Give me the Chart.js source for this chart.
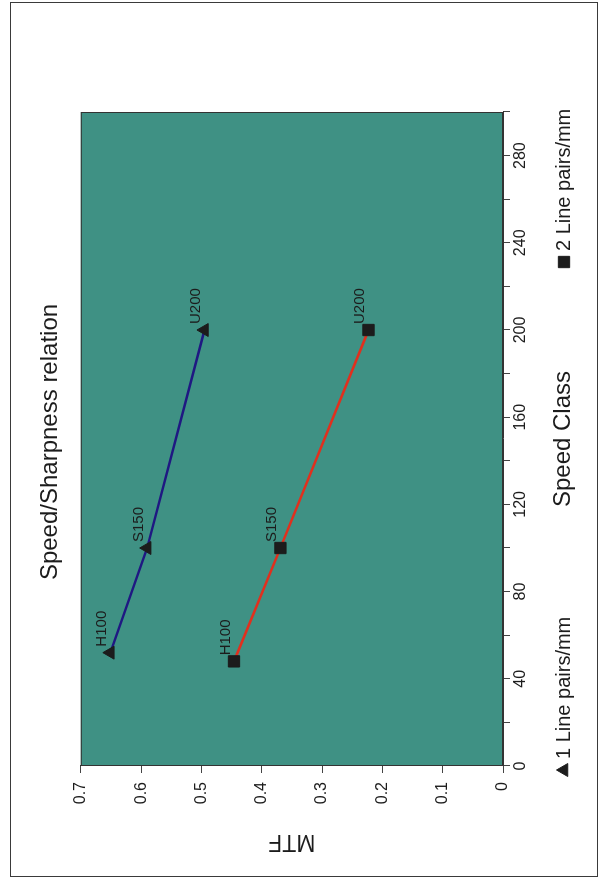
<!DOCTYPE html>
<html>
<head>
<meta charset="utf-8">
<title>Speed/Sharpness relation</title>
<script src="https://cdn.jsdelivr.net/npm/chart.js@4/dist/chart.umd.min.js"></script>
<style>
  body { margin: 0; width: 605px; height: 884px; overflow: hidden; background: #fff; position: relative; }
  #frame { position: absolute; left: 10px; top: 2px; width: 588px; height: 875px; border: 1px solid #3a3a3a; box-sizing: border-box; }
  /* the whole chart is drawn landscape and turned a quarter turn to the left */
  #wrap { position: absolute; left: 0; top: 0; width: 884px; height: 605px; transform-origin: 0 0; transform: translate(0, 884px) rotate(-90deg); }
</style>
</head>
<body>
<div id="frame"></div>
<div id="wrap"><canvas id="chart" width="884" height="605"></canvas></div>
<script>
// data
const pointNames = ["H100", "S150", "U200"];
const speed1 = [52, 100, 200];
const mtf1 = [0.651, 0.59, 0.495];
const speed2 = [48, 100, 200];
const mtf2 = [0.446, 0.369, 0.223];
const seriesNames = ["1 Line pairs/mm", "2 Line pairs/mm"];
const speedLabels = [0, 40, 80, 120, 160, 200, 240, 280];

const FONT = "'Liberation Sans', Arial, sans-serif";
const INK = "#1c1c1c";

Chart.defaults.font.family = FONT;
Chart.defaults.color = INK;

// background and border of the plot area
const plotFrame = {
    id: "plotFrame",
    beforeDraw(chart) {
        const { ctx, chartArea: a } = chart;
        ctx.save();
        ctx.fillStyle = "#3f9184";
        ctx.fillRect(a.left, a.top, a.right - a.left, a.bottom - a.top);
        ctx.restore();
    },
    afterDraw(chart) {
        const { ctx, chartArea: a } = chart;
        ctx.save();
        ctx.strokeStyle = "#333";
        ctx.lineWidth = 1;
        ctx.strokeRect(a.left + 0.5, a.top + 0.5, a.right - a.left - 1, a.bottom - a.top - 1);
        ctx.restore();
    },
};

// H100 / S150 / U200 next to each point
const pointLabels = {
    id: "pointLabels",
    afterDatasetsDraw(chart) {
        const ctx = chart.ctx;
        ctx.save();
        ctx.font = "15px " + FONT;
        ctx.fillStyle = INK;
        ctx.textAlign = "left";
        ctx.textBaseline = "alphabetic";
        chart.data.datasets.forEach((ds, i) => {
            chart.getDatasetMeta(i).data.forEach((pt, j) => {
                ctx.fillText(pointNames[j], pt.x + 6, pt.y - 4);
            });
        });
        ctx.restore();
    },
};

// legend items sit on the same line as the x axis title
const legendRow = {
    id: "legendRow",
    afterDraw(chart) {
        const { ctx, chartArea: a } = chart;
        const y = 564;
        const xs = [a.left - 4, a.right - 150];
        ctx.save();
        ctx.font = "20px " + FONT;
        ctx.textBaseline = "middle";
        ctx.textAlign = "left";
        chart.data.datasets.forEach((ds, i) => {
            ctx.fillStyle = INK;
            ctx.strokeStyle = INK;
            Chart.helpers.drawPoint(ctx, {
                pointStyle: ds.pointStyle,
                radius: ds.pointRadius,
                rotation: 0,
                borderWidth: 1,
            }, xs[i], y);
            ctx.fillStyle = INK;
            ctx.fillText(ds.label, xs[i] + 11, y);
        });
        ctx.restore();
    },
};

new Chart(document.getElementById("chart"), {
    type: "scatter",
    data: {
        datasets: [
            {
                label: seriesNames[0],
                data: speed1.map((s, i) => ({ x: s, y: mtf1[i] })),
                showLine: true,
                borderColor: "#1f1882",
                borderWidth: 2.5,
                pointStyle: "triangle",
                pointRadius: 7.5,
                pointBackgroundColor: INK,
                pointBorderColor: INK,
                pointBorderWidth: 1,
            },
            {
                label: seriesNames[1],
                data: speed2.map((s, i) => ({ x: s, y: mtf2[i] })),
                showLine: true,
                borderColor: "#e0301e",
                borderWidth: 2.5,
                pointStyle: "rect",
                pointRadius: 8,
                pointBackgroundColor: INK,
                pointBorderColor: INK,
                pointBorderWidth: 1,
            },
        ],
    },
    options: {
        responsive: false,
        animation: false,
        devicePixelRatio: 1,
        layout: { padding: 0 },
        plugins: {
            legend: { display: false },
            tooltip: { enabled: false },
            title: {
                display: true,
                text: "Speed/Sharpness relation",
                color: INK,
                font: { size: 24, weight: "normal" },
                padding: { top: 36, bottom: 16 },
            },
        },
        scales: {
            x: {
                type: "linear",
                position: "bottom",
                min: 0,
                max: 300,
                afterFit: (s) => { s.height = 102; },
                border: { display: true, color: "#333" },
                grid: { drawOnChartArea: false, drawTicks: true, tickLength: 7, tickColor: "#444" },
                ticks: {
                    stepSize: 20,
                    padding: 1,
                    maxRotation: 0,
                    autoSkip: false,
                    font: { size: 16 },
                    callback: (v) => (speedLabels.includes(v) ? v : ""),
                },
                title: {
                    display: true,
                    text: "Speed Class",
                    color: INK,
                    font: { size: 24 },
                    padding: { top: 0, bottom: 27 },
                },
            },
            y: {
                type: "linear",
                position: "left",
                min: 0,
                max: 0.7,
                afterFit: (s) => { s.width = 118; },
                border: { display: true, color: "#333" },
                grid: { drawOnChartArea: false, drawTicks: true, tickLength: 7, tickColor: "#444" },
                ticks: { stepSize: 0.1, padding: 9, font: { size: 16 } },
                title: {
                    display: true,
                    text: "MTF",
                    color: INK,
                    font: { size: 23 },
                    padding: { top: 29, bottom: 0 },
                },
            },
            // empty space on the right, keeps the title centred over the plot
            spacer: {
                type: "linear",
                axis: "y",
                position: "right",
                display: true,
                afterFit: (s) => { s.width = 112; },
                border: { display: false },
                grid: { display: false },
                ticks: { display: false },
            },
        },
    },
    plugins: [plotFrame, pointLabels, legendRow],
});
</script>
</body>
</html>
